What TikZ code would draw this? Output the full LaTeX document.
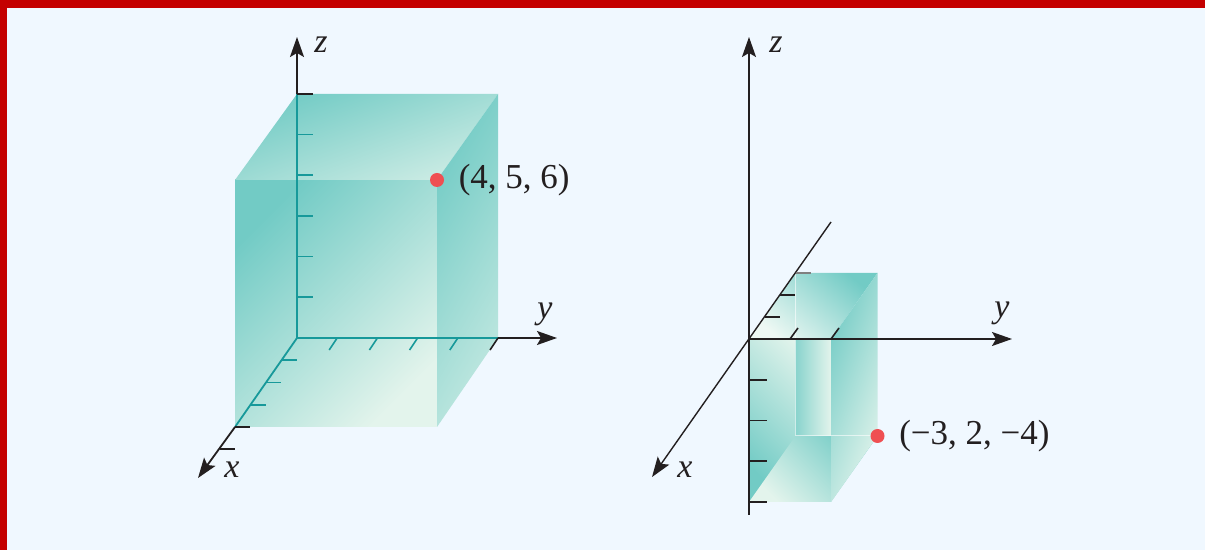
\documentclass[tikz,border=0pt]{standalone}
\usepackage{fontspec}
\setmainfont{Liberation Serif}
\usetikzlibrary{arrows.meta,positioning}
\definecolor{bgblue}{HTML}{F0F8FF}
\definecolor{framered}{HTML}{C40000}
\definecolor{axisteal}{HTML}{17999A}
\definecolor{boxdark}{HTML}{72CBC5}
\definecolor{boxlight}{HTML}{E3F4EC}
\definecolor{dotred}{HTML}{EF4F52}
\definecolor{ink}{HTML}{231F20}
\tikzset{
  axline/.style={line width=0.9pt,ink},
  axin/.style={line width=0.9pt,axisteal},
  axarrow/.style={axline,-{Stealth[length=10pt,width=7pt,inset=2pt]}},
  axtick/.style={line width=0.8pt,ink},
  axtickin/.style={line width=0.8pt,axisteal},
  lbl/.style={inner sep=0pt,font=\fontsize{17}{19}\selectfont\itshape,text=ink},
  coordlbl/.style={inner sep=0pt,font=\fontsize{17.5}{20}\selectfont,text=ink},
  dot/.style={circle,fill=dotred,minimum size=7pt,inner sep=0pt},
  faceedge/.style={white,opacity=0.6,line width=0.5pt}
}

\begin{document}
\begin{tikzpicture}[x=0.5pt,y=-0.5pt]

% background and frame
\fill[bgblue] (0,0) rectangle (1205,550);
\fill[framered] (0,0) rectangle (1205,8);
\fill[framered] (0,0) rectangle (7,550);

% left box, corner (4,5,6)
\shade[top color=boxdark,bottom color=boxlight,shading angle=45] (235,180) rectangle (437,427);
\shade[top color=boxdark,bottom color=boxlight!80!boxdark,shading angle=20] (235,180) -- (297,94) -- (498,94) -- (437,180) -- cycle;
\shade[top color=boxdark,bottom color=boxlight!70!boxdark,shading angle=60] (437,180) -- (498,94) -- (498,338) -- (437,427) -- cycle;

\coordinate (O1) at (297,338);
\coordinate (Z1) at (297,94);
\coordinate (Zt1) at (297,37);
\coordinate (Y1) at (498,338);
\coordinate (Yt1) at (557,338);
\coordinate (X1) at (235,427);
\coordinate (Xt1) at (198,478);

\draw[axin] (O1) -- (Z1);
\draw[axin] (O1) -- (Y1);
\draw[axin] (O1) -- (X1);
\draw[axarrow] (Z1) -- (Zt1);
\draw[axarrow] (Y1) -- (Yt1);
\draw[axarrow] (X1) -- (Xt1);

\foreach \k in {1,...,5} \draw[axtickin] (297,{338-40.7*\k}) -- ++(16,0);
\draw[axtick] (Z1) -- ++(16,0);
\foreach \k in {1,...,4} \draw[axtickin] ({297+40.2*\k},338) -- ++(-8,12);
\draw[axtick] (Y1) -- ++(-8,12);
\foreach \k in {1,2,3} \draw[axtickin] ({297-15.5*\k},{338+22.25*\k}) -- ++(15,0);
\foreach \k in {4,5} \draw[axtick] ({297-15.5*\k},{338+22.25*\k}) -- ++(15,0);

\node[lbl] (lz1) at (321,45) {z};
\node[lbl] (ly1) at (545,314) {y};
\node[lbl] (lx1) at (232,470) {x};

\node[dot] (P1) at (437,180) {};
\node[coordlbl,right=7pt of P1] (P1lbl) {(4, 5, 6)};

% right box, corner (-3,2,-4)
\shade[top color=boxlight,bottom color=boxdark,shading angle=-45] (749,339) rectangle (831,502);
\shade[left color=boxdark!80!boxlight,right color=boxlight] (795.5,339) rectangle (831,436);
\shade[top color=boxdark,bottom color=boxlight,shading angle=-45] (749,502) -- (795.5,436) -- (877.5,436) -- (831,502) -- cycle;
\shade[top color=boxdark,bottom color=boxlight!60!white,shading angle=-40] (749,339) -- (795.5,273) -- (877.5,273) -- (831,339) -- cycle;
\shade[top color=boxdark,bottom color=boxlight,shading angle=70] (831,339) -- (877.5,273) -- (877.5,436) -- (831,502) -- cycle;
\draw[faceedge] (795.5,273) -- (795.5,436) -- (877.5,436);

\coordinate (O2) at (749,339);
\coordinate (Zb2) at (749,515);
\coordinate (Zt2) at (749,37);
\coordinate (Yt2) at (1012,339);
\coordinate (Xs2) at (831,222);
\coordinate (Xt2) at (652,477);

\draw[axarrow,line width=0.7pt] (Zb2) -- (Zt2);
\draw[axarrow,line width=0.7pt] (O2) -- (Yt2);
\draw[axarrow,line width=0.7pt] (Xs2) -- (Xt2);

\foreach \k in {1,...,4} \draw[axtick] (749,{339+40.75*\k}) -- ++(18,0);
\foreach \k in {1,2} \draw[axtick] ({749+15.5*\k},{339-22*\k}) -- ++(15,0);
\draw[axtick,gray] (795.5,273) -- ++(15,0);
\foreach \k in {1,2} \draw[axtick] ({749+41*\k},339) -- ++(8,-11);

\node[lbl] (lz2) at (776,45) {z};
\node[lbl] (ly2) at (1002,313) {y};
\node[lbl] (lx2) at (685,470) {x};

\node[dot] (P2) at (877.5,436) {};
\node[coordlbl,right=7pt of P2] (P2lbl) {(−3, 2, −4)};

\end{tikzpicture}
\end{document}
